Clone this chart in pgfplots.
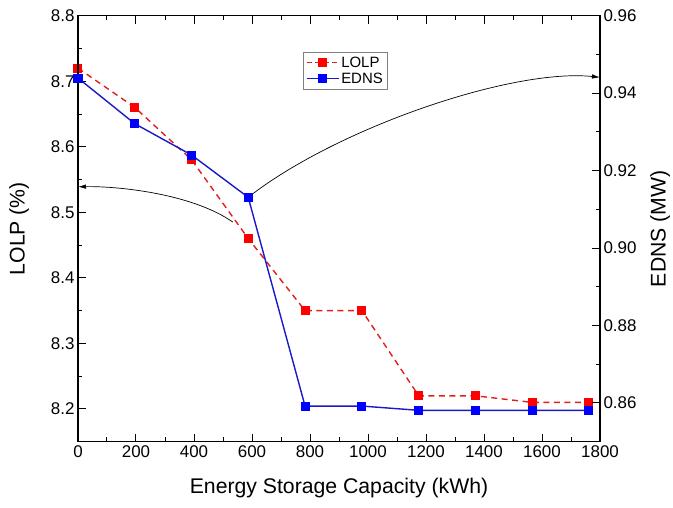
\documentclass[border=0pt]{standalone}
\usepackage{pgfplots}
\pgfplotsset{compat=1.18}
\usepackage{fontspec}
\setmainfont{Liberation Sans}
\usetikzlibrary{arrows.meta}
\definecolor{lred}{RGB}{225,30,30}
\definecolor{mred}{RGB}{255,0,0}
\definecolor{lblue}{RGB}{25,25,200}
\definecolor{mblue}{RGB}{0,0,255}
\pgfplotsset{
  base/.style={
    scale only axis, width=522bp, height=426bp,
    at={(0,0)}, anchor=south west,
    xmin=0, xmax=1800,
    tick align=inside,
    major tick length=8bp, minor tick length=4.5bp,
    every tick/.style={black, line width=1bp},
    axis line style={line width=1.4bp},
    /pgf/number format/assume math mode=true,
    tick label style={font=\fontsize{17}{19}\selectfont},
    label style={font=\fontsize{21.3}{25}\selectfont},
  }
}
\begin{document}
\begin{tikzpicture}
\useasboundingbox (-78bp,-66.3bp) rectangle (595bp,441.7bp);
\begin{axis}[base,
  ymin=8.15, ymax=8.8,
  xtick={0,200,...,1800}, minor x tick num=1,
  ytick={8.2,8.3,8.4,8.5,8.6,8.7,8.8}, minor y tick num=1,
  yticklabel style={/pgf/number format/.cd, fixed, fixed zerofill, precision=1},
  xticklabel style={/pgf/number format/.cd, 1000 sep={}},
  xtick pos=both, xticklabel pos=lower,
  ytick pos=left,
  xlabel={Energy Storage Capacity (kWh)},
  ylabel={LOLP (\%)},
  xlabel style={at={(axis description cs:0.5,-0.109)}, anchor=center},
  ylabel style={at={(axis description cs:-0.113,0.5)}, anchor=center},
]
\addplot[lred, line width=1.4bp, dash pattern=on 6bp off 4.5bp,
  mark=square*, mark size=3.8bp, mark options={solid, fill=mred, draw=mred}]
  coordinates {(0,8.72) (196,8.66) (392,8.58) (587,8.46) (783,8.35) (979,8.35)
  (1175,8.22) (1371,8.22) (1566,8.21) (1762,8.21)};
\draw[black, line width=0.7bp, -{Latex[length=8bp,width=4.5bp]}]
  (axis cs:593,8.525) .. controls (axis cs:900,8.63) and (axis cs:1500,8.72) .. (axis cs:1800,8.706);
\draw[black, line width=0.7bp, -{Latex[length=8bp,width=4.5bp]}]
  (axis cs:534,8.485) .. controls (axis cs:400,8.527) and (axis cs:150,8.54) .. (axis cs:0,8.539);
\end{axis}
\begin{axis}[base,
  ymin=0.85, ymax=0.96,
  axis x line=none,
  ytick={0.86,0.88,0.90,0.92,0.94,0.96}, minor y tick num=1,
  yticklabel style={/pgf/number format/.cd, fixed, fixed zerofill, precision=2},
  ytick pos=right, yticklabel pos=right,
  ylabel={EDNS (MW)},
  ylabel style={at={(axis description cs:1.115,0.5)}, anchor=center, rotate=0},
  legend style={at={(0.431,0.915)}, anchor=north west, draw=gray, line width=0.8bp,
    font=\fontsize{15}{17}\selectfont, inner sep=2.5bp, row sep=0bp},
  legend cell align=left,
  legend image code/.code={\draw[mark repeat=2, mark phase=2] plot coordinates {(0bp,0bp) (16bp,0bp) (32bp,0bp)};},
]
\addlegendimage{lred, line width=1.2bp, dash pattern=on 5bp off 3.5bp,
  mark=square*, mark size=3.8bp, mark options={solid, fill=mred, draw=mred}}
\addlegendentry{LOLP}
\addplot[lblue, line width=1.4bp,
  mark=square*, mark size=3.8bp, mark options={fill=mblue, draw=mblue}]
  coordinates {(0,0.9439) (196,0.9321) (392,0.9240) (587,0.9131) (783,0.8592) (979,0.8592)
  (1175,0.8581) (1371,0.8581) (1566,0.8581) (1762,0.8581)};
\addlegendentry{EDNS}
\end{axis}
\end{tikzpicture}
\end{document}
